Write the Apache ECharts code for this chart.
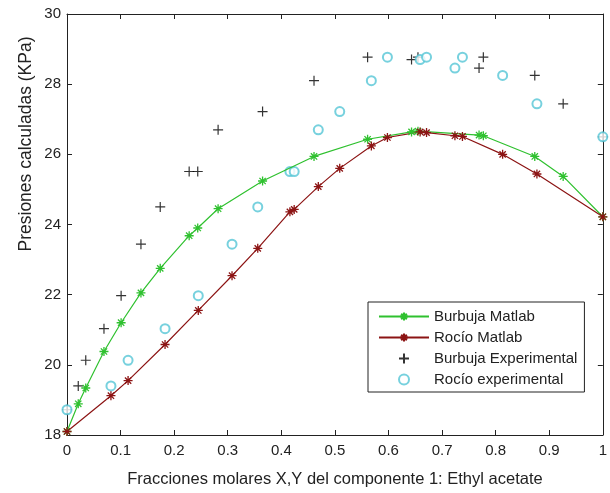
<!DOCTYPE html>
<html>
<head>
<meta charset="utf-8">
<script src="https://cdn.jsdelivr.net/npm/echarts@6/dist/echarts.min.js"></script>
<style>
  html, body { margin: 0; padding: 0; background: #fff; }
  #chart { width: 610px; height: 493px; }
</style>
</head>
<body>
<div id="chart"></div>
<script>
// datos
const xLiq = [0, 0.021, 0.035, 0.069, 0.101, 0.138, 0.174, 0.228, 0.244, 0.282, 0.365, 0.461, 0.561, 0.643, 0.655, 0.769, 0.777, 0.873, 0.926, 1.0];
const yVap = [0, 0.082, 0.114, 0.183, 0.245, 0.308, 0.356, 0.416, 0.424, 0.469, 0.509, 0.568, 0.598, 0.659, 0.671, 0.724, 0.738, 0.813, 0.877, 1.0];
const pExp = [18.72, 19.4, 20.13, 21.03, 21.97, 23.44, 24.5, 25.51, 25.51, 26.7, 27.22, 28.1, 28.77, 28.7, 28.77, 28.46, 28.77, 28.25, 27.44, 26.5];
const pBurbuja = [18.1, 18.89, 19.34, 20.38, 21.2, 22.05, 22.75, 23.68, 23.9, 24.45, 25.24, 25.94, 26.43, 26.64, 26.66, 26.55, 26.53, 25.94, 25.37, 24.22];
const pRocio = [18.1, 19.12, 19.55, 20.58, 21.55, 22.54, 23.32, 24.36, 24.43, 25.08, 25.6, 26.24, 26.48, 26.64, 26.62, 26.53, 26.51, 26.0, 25.44, 24.22];

const xTicks = [0, 0.1, 0.2, 0.3, 0.4, 0.5, 0.6, 0.7, 0.8, 0.9, 1];
const yTicks = [18, 20, 22, 24, 26, 28, 30];

const VERDE = '#2fc12f';
const ROJO = '#8c1414';
const CIAN = '#55c6d6';
const FONT = 'Liberation Sans';

const asterisco = 'path://M0,5L10,5M5,0L5,10M1.5,1.5L8.5,8.5M8.5,1.5L1.5,8.5';
const cruz = 'path://M0,5L10,5M5,0L5,10';

const pares = (xs, ys) => xs.map((x, i) => [x, ys[i]]);

const chart = echarts.init(document.getElementById('chart'), null, { renderer: 'canvas' });

const ejeX = {
  type: 'value', min: 0, max: 1, interval: 0.1,
  axisLine: { show: true, onZero: false, lineStyle: { color: '#222', width: 1 } },
  axisTick: { show: true, inside: true, length: 5, lineStyle: { color: '#222' } },
  splitLine: { show: false }
};
const ejeY = {
  type: 'value', min: 18, max: 30, interval: 2,
  axisLine: { show: true, onZero: false, lineStyle: { color: '#222', width: 1 } },
  axisTick: { show: true, inside: true, length: 5, lineStyle: { color: '#222' } },
  splitLine: { show: false }
};

chart.setOption({
  animation: false,
  backgroundColor: '#fff',
  grid: { left: 67, right: 7, top: 14, bottom: 55 },
  xAxis: [
    Object.assign({}, ejeX, {
      position: 'bottom',
      name: 'Fracciones molares X,Y del componente 1: Ethyl acetate',
      nameLocation: 'middle', nameGap: 36,
      nameTextStyle: { fontFamily: FONT, fontSize: 16.5, color: '#222' },
      axisLabel: { fontFamily: FONT, fontSize: 15, color: '#222', margin: 8,
        formatter: v => xTicks.includes(Math.round(v * 10) / 10) ? String(Math.round(v * 10) / 10) : '' }
    }),
    Object.assign({}, ejeX, { position: 'top', axisLabel: { show: false } })
  ],
  yAxis: [
    Object.assign({}, ejeY, {
      position: 'left',
      axisLabel: { fontFamily: FONT, fontSize: 15, color: '#222', margin: 6,
        formatter: v => yTicks.includes(v) ? String(v) : '' }
    }),
    Object.assign({}, ejeY, { position: 'right', axisLabel: { show: false } })
  ],
  graphic: [{
    type: 'text',
    x: 26, y: 144,
    rotation: Math.PI / 2,
    style: {
      text: 'Presiones calculadas (KPa)',
      fontFamily: FONT, fontSize: 17.5, fill: '#222',
      align: 'center', verticalAlign: 'middle'
    }
  }],
  legend: {
    orient: 'vertical',
    left: 368, top: 302,
    backgroundColor: '#fff',
    borderColor: '#222', borderWidth: 1, borderRadius: 0,
    padding: [7, 7, 5, 10],
    itemWidth: 50, itemHeight: 10, itemGap: 6,
    textStyle: { fontFamily: FONT, fontSize: 15, color: '#222' },
    data: ['Burbuja Matlab', 'Rocío Matlab', 'Burbuja Experimental', 'Rocío experimental']
  },
  series: [
    {
      name: 'Burbuja Matlab', type: 'line',
      data: pares(xLiq, pBurbuja),
      symbol: asterisco, symbolSize: 9, showAllSymbol: true,
      lineStyle: { color: VERDE, width: 1.2 },
      itemStyle: { color: VERDE, borderColor: VERDE, borderWidth: 1.3 }
    },
    {
      name: 'Rocío Matlab', type: 'line',
      data: pares(yVap, pRocio),
      symbol: asterisco, symbolSize: 9, showAllSymbol: true,
      lineStyle: { color: ROJO, width: 1.2 },
      itemStyle: { color: ROJO, borderColor: ROJO, borderWidth: 1.3 }
    },
    {
      name: 'Burbuja Experimental', type: 'scatter',
      data: pares(xLiq, pExp),
      symbol: cruz, symbolSize: 10,
      itemStyle: { color: '#000', borderColor: '#000', borderWidth: 1.2 }
    },
    {
      name: 'Rocío experimental', type: 'scatter',
      data: pares(yVap, pExp),
      symbol: 'emptyCircle', symbolSize: 9,
      itemStyle: { color: CIAN, borderColor: CIAN, borderWidth: 1.3 }
    }
  ]
});
</script>
</body>
</html>
